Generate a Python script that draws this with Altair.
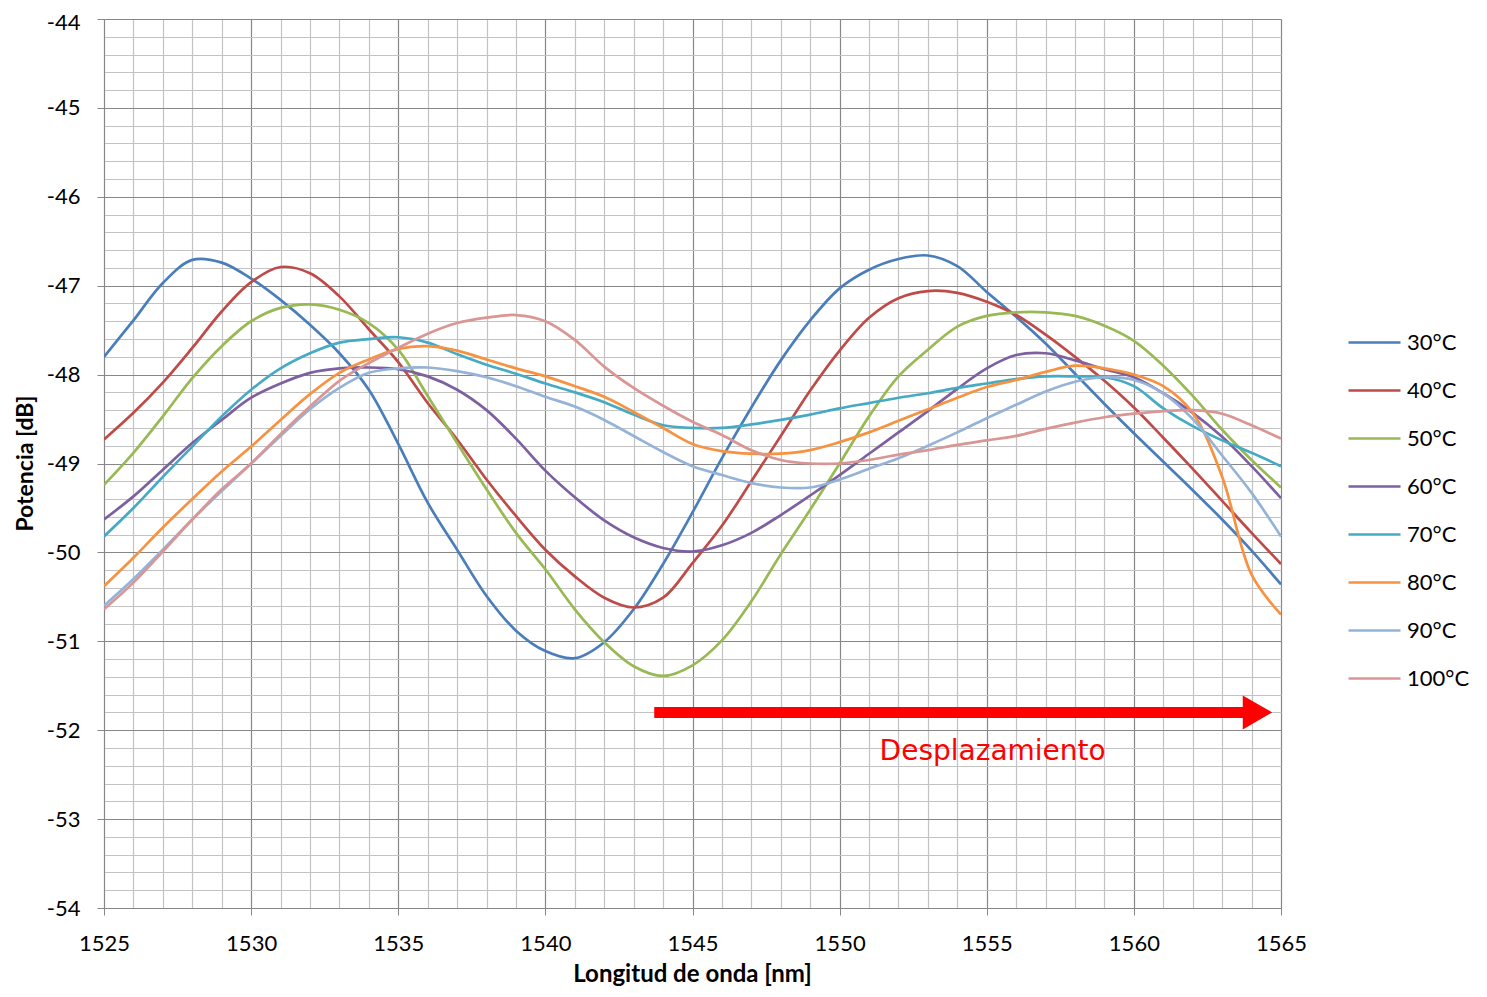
import altair as alt
import pandas as pd

wavelength = list(range(1525, 1566))

p30 = [-47.80, -47.39, -46.97, -46.71, -46.74, -46.92, -47.16, -47.44, -47.76, -48.17, -48.78,
       -49.44, -49.97, -50.49, -50.88, -51.11, -51.19, -51.01, -50.64, -50.13, -49.55,
       -48.94, -48.37, -47.84, -47.39, -47.03, -46.82, -46.70, -46.66, -46.78, -47.07,
       -47.35, -47.65, -47.99, -48.33, -48.66, -48.98, -49.30, -49.63, -49.98, -50.36]
p40 = [-48.73, -48.43, -48.09, -47.70, -47.29, -46.96, -46.79, -46.86, -47.12, -47.49, -47.86,
       -48.32, -48.73, -49.18, -49.59, -49.97, -50.27, -50.51, -50.62, -50.51, -50.12,
       -49.70, -49.20, -48.69, -48.18, -47.73, -47.36, -47.14, -47.06, -47.08, -47.18,
       -47.33, -47.55, -47.80, -48.07, -48.37, -48.71, -49.06, -49.42, -49.78, -50.13]
p50 = [-49.24, -48.88, -48.47, -48.04, -47.68, -47.40, -47.25, -47.21, -47.27, -47.42, -47.72,
       -48.24, -48.77, -49.29, -49.78, -50.19, -50.64, -51.01, -51.28, -51.39, -51.27,
       -50.99, -50.55, -50.02, -49.52, -49.00, -48.47, -48.02, -47.72, -47.46, -47.34,
       -47.30, -47.30, -47.34, -47.45, -47.62, -47.90, -48.24, -48.62, -48.96, -49.27]
p60 = [-49.63, -49.37, -49.07, -48.77, -48.51, -48.26, -48.10, -47.98, -47.93, -47.92, -47.94,
       -48.02, -48.17, -48.40, -48.72, -49.08, -49.38, -49.64, -49.83, -49.95, -49.99,
       -49.92, -49.78, -49.58, -49.36, -49.13, -48.89, -48.65, -48.41, -48.16, -47.93,
       -47.78, -47.76, -47.84, -47.94, -48.03, -48.21, -48.43, -48.70, -49.03, -49.39]
p70 = [-49.82, -49.50, -49.15, -48.81, -48.47, -48.17, -47.93, -47.76, -47.64, -47.60, -47.58,
       -47.64, -47.77, -47.89, -47.99, -48.10, -48.20, -48.31, -48.45, -48.57, -48.60,
       -48.60, -48.56, -48.51, -48.45, -48.38, -48.32, -48.26, -48.21, -48.15, -48.10,
       -48.05, -48.02, -48.02, -48.03, -48.13, -48.38, -48.58, -48.74, -48.88, -49.03]
p80 = [-50.38, -50.06, -49.72, -49.40, -49.09, -48.81, -48.51, -48.22, -47.98, -47.83, -47.71,
       -47.68, -47.73, -47.83, -47.93, -48.02, -48.13, -48.25, -48.42, -48.60, -48.78,
       -48.86, -48.89, -48.89, -48.85, -48.76, -48.65, -48.52, -48.39, -48.26, -48.14,
       -48.06, -47.97, -47.90, -47.93, -48.00, -48.13, -48.43, -49.15, -50.25, -50.70]
p90 = [-50.60, -50.30, -49.97, -49.63, -49.31, -49.00, -48.69, -48.39, -48.15, -47.98, -47.93,
       -47.92, -47.96, -48.03, -48.13, -48.25, -48.36, -48.51, -48.69, -48.87, -49.03,
       -49.13, -49.22, -49.27, -49.27, -49.18, -49.06, -48.94, -48.80, -48.65, -48.49,
       -48.34, -48.19, -48.08, -48.03, -48.06, -48.21, -48.50, -48.91, -49.33, -49.82]
p100 = [-50.64, -50.34, -49.99, -49.63, -49.29, -49.00, -48.67, -48.36, -48.07, -47.87, -47.70,
        -47.54, -47.42, -47.36, -47.33, -47.40, -47.61, -47.91, -48.15, -48.35, -48.53,
        -48.68, -48.85, -48.96, -49.00, -49.00, -48.96, -48.90, -48.85, -48.79, -48.74,
        -48.69, -48.61, -48.54, -48.48, -48.44, -48.41, -48.40, -48.44, -48.57, -48.72]

series_names = ["30°C", "40°C", "50°C", "60°C", "70°C", "80°C", "90°C", "100°C"]
series_values = [p30, p40, p50, p60, p70, p80, p90, p100]
series_colors = ["#4A7EBB", "#BE4B48", "#98B954", "#7D60A0", "#46AAC5", "#F69240", "#95B3D7", "#D99694"]

x_ticks = list(range(1525, 1566))
y_ticks = [round(-54 + 0.2 * i, 1) for i in range(51)]

arrow_x = [1543.7, 1563.9]
arrow_head_x = [1564.2]
arrow_y = [-51.8]
label_x = [1555.2]
label_y = [-52.25]
label_text = ["Desplazamiento"]

rows = []
for name, vals in zip(series_names, series_values):
    for w, v in zip(wavelength, vals):
        rows.append({"lambda": w, "P": v, "serie": name})
df = pd.DataFrame(rows)

FONT = "Lato"
MAJOR = "#878787"
MINOR = "#c3c3c3"

x_scale = alt.Scale(domain=[1525, 1565], nice=False, zero=False)
y_scale = alt.Scale(domain=[-54, -44], nice=False, zero=False)

x_axis = alt.Axis(
    values=x_ticks, tickCount=200,
    title="Longitud de onda [nm]",
    labelExpr="datum.value % 5 === 0 ? '' + datum.value : ''",
    gridColor={"condition": {"test": "datum.value % 5 === 0", "value": MAJOR}, "value": MINOR},
    gridWidth=1.2,
    tickColor={"condition": {"test": "datum.value % 5 === 0", "value": MAJOR}, "value": "transparent"},
    tickSize=7,
    domainColor=MAJOR,
    labelFont=FONT, labelFontSize=22, labelColor="black", labelPadding=18,
    labelFlush=False, labelOverlap=False,
    titleFont=FONT, titleFontSize=24, titleFontWeight="bold", titleColor="black",
    titleX=588, titleY=66, titleBaseline="middle", titleAlign="center",
)
y_axis = alt.Axis(
    values=y_ticks, tickCount=200,
    title="Potencia [dB]",
    labelExpr="datum.value % 1 === 0 ? '' + datum.value : ''",
    labelOffset={"condition": {"test": "datum.value === -44", "value": 3}, "value": 0},
    gridColor={"condition": {"test": "datum.value % 1 === 0", "value": MAJOR}, "value": MINOR},
    gridWidth=1.2,
    tickColor={"condition": {"test": "datum.value % 1 === 0", "value": MAJOR}, "value": "transparent"},
    tickSize=7,
    domainColor=MAJOR,
    labelFont=FONT, labelFontSize=22, labelColor="black", labelPadding=17,
    labelFlush=False, labelOverlap=False,
    titleFont=FONT, titleFontSize=23, titleFontWeight="bold", titleColor="black",
    titleX=-79, titleY=444, titleBaseline="middle", titleAlign="center", titleAngle=270,
)

lines = alt.Chart(df).mark_line(interpolate="catmull-rom", strokeWidth=2.7, clip=True).encode(
    x=alt.X("lambda:Q", scale=x_scale, axis=x_axis),
    y=alt.Y("P:Q", scale=y_scale, axis=y_axis),
    color=alt.Color(
        "serie:N",
        scale=alt.Scale(domain=series_names, range=series_colors),
        sort=series_names,
        legend=alt.Legend(
            title=None, orient="none", legendX=1243, legendY=296,
            symbolType="stroke", symbolSize=2704, symbolStrokeWidth=2.7,
            labelFont=FONT, labelFontSize=22, labelColor="black", labelOffset=5,
            rowPadding=9, padding=0,
        ),
    ),
    order=alt.Order("lambda:Q"),
)

arrow_df = pd.DataFrame({"x": [arrow_x[0]], "x2": [arrow_x[1]], "y": arrow_y})
shaft = alt.Chart(arrow_df).mark_rule(color="#FF0000", strokeWidth=11, strokeCap="butt").encode(
    x=alt.X("x:Q", scale=x_scale), x2="x2:Q", y=alt.Y("y:Q", scale=y_scale)
)
head_df = pd.DataFrame({"x": arrow_head_x, "y": arrow_y})
head = alt.Chart(head_df).mark_point(
    shape="triangle-right", filled=True, size=1156, color="#FF0000", opacity=1
).encode(x=alt.X("x:Q", scale=x_scale), y=alt.Y("y:Q", scale=y_scale))

text_df = pd.DataFrame({"x": label_x, "y": label_y, "t": label_text})
label = alt.Chart(text_df).mark_text(
    font="DejaVu Sans", fontSize=28, color="#FF0000", align="center", baseline="middle"
).encode(x=alt.X("x:Q", scale=x_scale), y=alt.Y("y:Q", scale=y_scale), text="t:N")

chart = alt.layer(lines, shaft, head, label).properties(
    width=1177, height=889,
    autosize=alt.AutoSizeParams(type="none"),
    padding={"left": 96, "top": 11, "right": 195, "bottom": 80},
    background="white",
).configure_view(stroke=None)

chart.save("out.html", embed_options={"renderer": "svg", "actions": False})
